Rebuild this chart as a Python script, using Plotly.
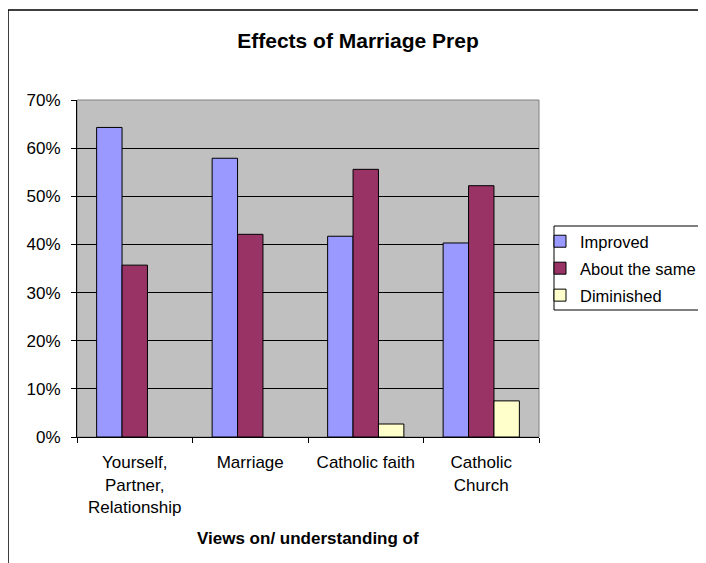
import plotly.graph_objects as go

categories = ["Yourself,<br>Partner,<br>Relationship", "Marriage", "Catholic faith", "Catholic<br>Church"]
improved = [0.643, 0.579, 0.417, 0.403]
about_same = [0.357, 0.421, 0.556, 0.522]
diminished = [None, None, 0.027, 0.075]
series_names = ["Improved", "About the same", "Diminished"]
colors = ["#9999FF", "#993366", "#FFFFCC"]
y_ticks = [0, 0.1, 0.2, 0.3, 0.4, 0.5, 0.6, 0.7]
y_ticklabels = ["0%", "10%", "20%", "30%", "40%", "50%", "60%", "70%"]

# page has an 8px body margin; figure coords = page coords - 8
OFF = 8
W, H = 706 - OFF, 563 - OFF
L, R, T, B = 77 - OFF, 539 - OFF, 100 - OFF, 437 - OFF
PW, PH = R - L, B - T

def px_x(x):
    return (x - OFF - L) / PW

def px_y(y):
    return (B - (y - OFF)) / PH

fig = go.Figure()
for name, vals, col in zip(series_names, [improved, about_same, diminished], colors):
    fig.add_trace(go.Bar(
        x=categories, y=vals, name=name, legendgroup=name,
        marker=dict(color=col, line=dict(color="black", width=1)),
    ))

font_family = "Liberation Sans, Arial, sans-serif"
fig.update_layout(
    width=W, height=H,
    margin=dict(l=L, r=W - R, t=T, b=H - B, pad=0, autoexpand=False),
    paper_bgcolor="white", plot_bgcolor="#C0C0C0",
    barmode="group", bargap=0.34, bargroupgap=0,
    font=dict(family=font_family, size=17, color="black"),
    title=dict(text="<b>Effects of Marriage Prep</b>", x=(358 - OFF) / W, xanchor="center",
               y=1 - (41 - OFF) / H, yanchor="middle", yref="container",
               font=dict(size=21, family=font_family)),
    legend=dict(x=px_x(540), xanchor="left", y=px_y(224), yanchor="top",
                borderwidth=0, bgcolor="rgba(0,0,0,0)",
                traceorder="grouped", tracegroupgap=2.5, itemwidth=30,
                font=dict(size=16.5, family=font_family)),
    showlegend=True,
)
fig.update_xaxes(
    showgrid=False, showline=True, linecolor="black", linewidth=1,
    ticks="outside", tickson="boundaries", ticklen=5, tickcolor="black",
    tickfont=dict(size=17), ticklabelstandoff=10,
)
fig.update_yaxes(
    range=[0, 0.7], tickvals=y_ticks, ticktext=y_ticklabels,
    showgrid=True, gridcolor="black", gridwidth=1,
    showline=True, linecolor="black", linewidth=1,
    ticks="outside", ticklen=5, tickcolor="black", tickfont=dict(size=17),
    ticklabelstandoff=7, zeroline=False,
)
# plot area border (gray) on top/right
fig.add_shape(type="rect", xref="paper", yref="paper", x0=0, x1=1, y0=0, y1=1,
              line=dict(color="#808080", width=1), fillcolor="rgba(0,0,0,0)", layer="below")
# legend box
fig.add_shape(type="rect", xref="paper", yref="paper",
              x0=px_x(554), x1=px_x(703.5), y0=px_y(310), y1=px_y(226),
              line=dict(color="black", width=1), fillcolor="white", layer="below")
# outer chart border
fig.add_shape(type="rect", xref="paper", yref="paper",
              x0=px_x(8), x1=2.0, y0=-1.0, y1=px_y(10),
              line=dict(color="black", width=1.5), fillcolor="rgba(0,0,0,0)")
fig.add_annotation(text="<b>Views on/ understanding of</b>", xref="paper", yref="paper",
                   x=0.5, y=px_y(538), xanchor="center", yanchor="middle",
                   showarrow=False, font=dict(size=17, family=font_family))

fig.write_html("out.html")
